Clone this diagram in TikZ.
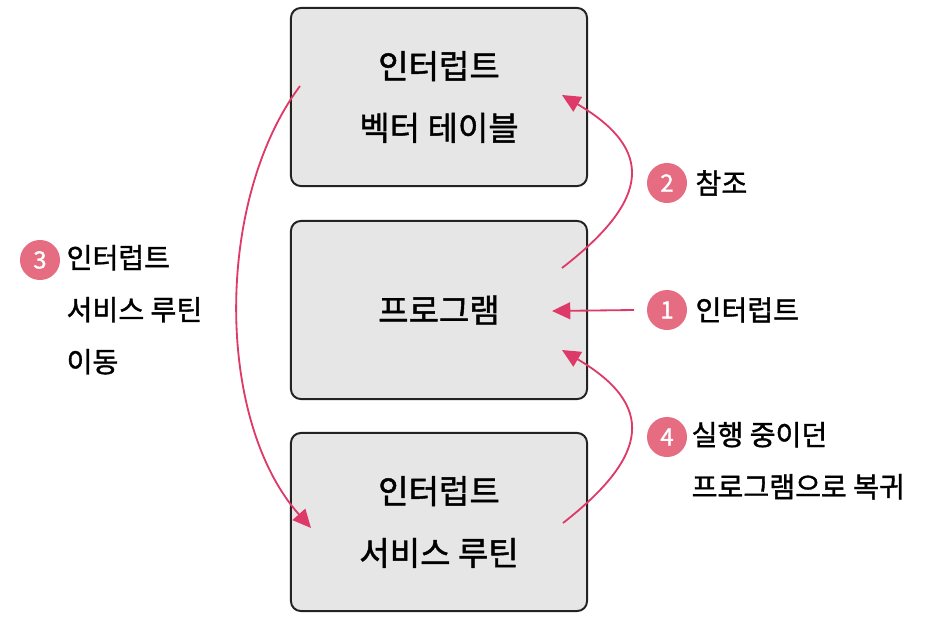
\documentclass[tikz,border=0pt]{standalone}
\usepackage{fontspec}
\setmainfont{Noto Sans CJK KR}[FakeBold=1.3]
\usetikzlibrary{arrows.meta, positioning, calc}
\definecolor{boxgray}{RGB}{230,230,230}
\definecolor{boxline}{RGB}{35,35,35}
\definecolor{arrowpink}{RGB}{222,58,105}
\definecolor{dotpink}{RGB}{230,108,130}

\begin{document}
\begin{tikzpicture}[x=0.025cm, y=-0.025cm, >={Triangle[length=13pt,width=12pt]},
  stage/.style={draw=boxline, fill=boxgray, line width=1.4pt, rounded corners=7pt,
    minimum width=7.4cm, minimum height=4.45cm, align=center,
    font=\fontsize{23.5}{44}\selectfont},
  stepdot/.style={circle, fill=dotpink, minimum size=1cm, inner sep=0pt,
    text=white, font=\fontsize{17}{17}\selectfont},
  note/.style={align=left, inner sep=0pt, font=\fontsize{20}{37}\selectfont},
  flow/.style={->, arrowpink, line width=1.3pt}]

\useasboundingbox (0,0) rectangle (940,624);

% the three boxes
\node[stage] (ivt)  at (439,97)  {인터럽트\\벡터 테이블};
\node[stage] (prog) at (439,310) {프로그램};
\node[stage] (isr)  at (439,522) {인터럽트\\서비스 루틴};

% step markers and their texts
\node[stepdot] (s1) at (667,310) {1};
\node[stepdot] (s2) at (667,183) {2};
\node[stepdot] (s3) at (40,260)  {3};
\node[stepdot] (s4) at (667,437) {4};
\node[note, right=0.2cm of s1] (l1) {인터럽트};
\node[note, right=0.2cm of s2] (l2) {참조};
\node[note, anchor=north west] (l3) at ($(s3.north east)+(12,-1)$) {인터럽트\\서비스 루틴\\이동};
\node[note, anchor=north west] (l4) at ($(s4.north east)+(10,-1)$) {실행 중이던\\프로그램으로 복귀};

% arrow ends
\coordinate (a1from) at (634,310);
\coordinate (a1to)   at (552,311);
\coordinate (a2from) at (562,268);
\coordinate (a2to)   at (562,95);
\coordinate (a3from) at (300,86);
\coordinate (a3to)   at (311,528);
\coordinate (a4from) at (563,523);
\coordinate (a4to)   at (562,350);

\draw[flow] (a1from) -- (a1to);
\draw[flow] (a2from) .. controls (650,200) and (655,150) .. (a2to);
\draw[flow] (a3from) .. controls (215,200) and (215,420) .. (a3to);
\draw[flow] (a4from) .. controls (650,455) and (655,405) .. (a4to);

\end{tikzpicture}
\end{document}
